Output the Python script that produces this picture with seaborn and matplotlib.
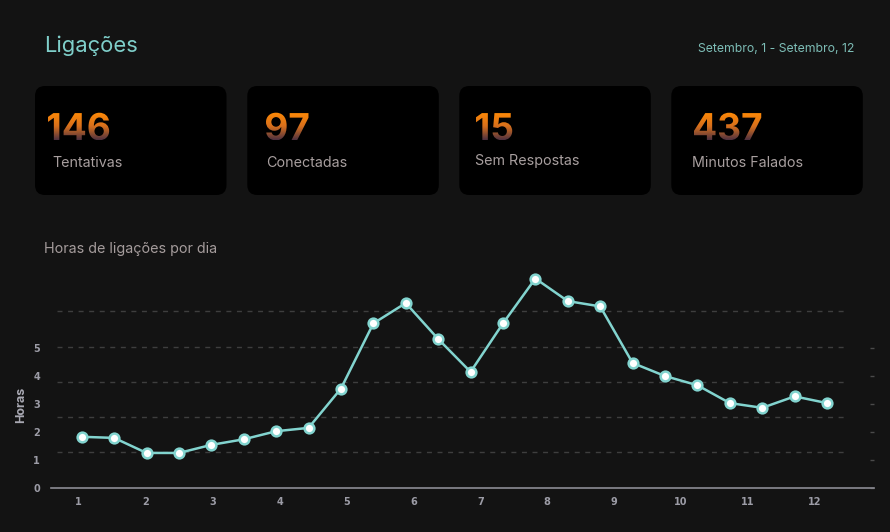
import numpy as np
import pandas as pd
import matplotlib
matplotlib.use("Agg")
import matplotlib.pyplot as plt
import matplotlib.transforms as mtransforms
from matplotlib.patches import FancyBboxPatch, PathPatch
from matplotlib.textpath import TextPath
from matplotlib.font_manager import FontProperties
from matplotlib.colors import LinearSegmentedColormap
import seaborn as sns

# ---------------- data ----------------
horas = [1.82, 1.78, 1.24, 1.24, 1.53, 1.73, 2.02, 2.14, 3.55, 5.89, 6.62, 5.33,
         4.15, 5.89, 7.50, 6.69, 6.50, 4.47, 4.00, 3.67, 3.03, 2.86, 3.27, 3.03]
dias = ["1", "2", "3", "4", "5", "6", "7", "8", "9", "10", "11", "12"]
y_ticks = [0, 1, 2, 3, 4, 5]
kpi_values = ["146", "97", "15", "437"]
kpi_labels = ["Tentativas", "Conectadas", "Sem Respostas", "Minutos Falados"]
titulo = "Ligações"
periodo = "Setembro, 1 - Setembro, 12"
subtitulo = "Horas de ligações por dia"

df = pd.DataFrame({"ponto": np.arange(len(horas)), "horas": horas})

# ---------------- style ----------------
BG = "#131313"
CARD = "#000000"
TEAL = "#7fcfca"
LINE = "#82d4cf"
TICK = "#9c9ca6"
GRID = "#3e3e3e"

sns.set_theme(style="dark", rc={"axes.facecolor": BG, "figure.facecolor": BG})
plt.rcParams["font.family"] = ["Inter", "DejaVu Sans"]

W, H = 890, 532
fig = plt.figure(figsize=(W / 100, H / 100), dpi=100, facecolor=BG)

# overlay in pixel coordinates for header and cards
ov = fig.add_axes([0, 0, 1, 1])
ov.set_xlim(0, W)
ov.set_ylim(H, 0)
ov.set_autoscale_on(False)
ov.axis("off")
ov.set_zorder(0)

ov.text(44, 52.5, titulo, color=TEAL, fontsize=15.8, va="baseline", ha="left")
ov.text(854, 52.5, periodo, color="#7dbdb6", fontsize=8.8, va="baseline", ha="right")
ov.text(43.5, 253, subtitulo, color="#a59c9c", fontsize=10.3, va="baseline", ha="left")

card_x = [35, 247.3, 459.3, 671.3]
num_x = [47.5, 266, 476, 694]
lab_x = [52.7, 266, 475.3, 692]
label_base = [167, 167, 165, 167]
card_w, card_h, card_y, r = 191.5, 109, 86, 10
num_prop = FontProperties(family="Inter", weight="bold")
cmap = LinearSegmentedColormap.from_list("g", ["#ff8a05", "#d8701c", "#4d3040"])


def gradient_text(ax, x, baseline, s, size):
    tp = TextPath((0, 0), s, size=size, prop=num_prop)
    bb = tp.get_extents()
    x = x - bb.x0
    tr = mtransforms.Affine2D().scale(1, -1).translate(x, baseline) + ax.transData
    patch = PathPatch(tp, transform=tr, facecolor="none", edgecolor="none")
    ax.add_patch(patch)
    grad = np.linspace(0, 1, 256).reshape(-1, 1)
    im = ax.imshow(grad, cmap=cmap, aspect="auto", origin="upper", zorder=3,
                   extent=(x + bb.x0, x + bb.x1, baseline - bb.y0, baseline - bb.y1))
    im.set_clip_path(patch)


for cx, nx, lx, val, lab, lb in zip(card_x, num_x, lab_x, kpi_values, kpi_labels,
                                    label_base):
    ov.add_patch(FancyBboxPatch((cx + r, card_y + r), card_w - 2 * r, card_h - 2 * r,
                                boxstyle=f"round,pad={r}", facecolor=CARD,
                                edgecolor="none", zorder=1))
    gradient_text(ov, nx, 140, val, 37)
    ov.text(lx, lb, lab, color="#a89f9f", fontsize=10.3, va="baseline", ha="left",
            zorder=3)

ov.set_xlim(0, W)
ov.set_ylim(H, 0)

# ---------------- chart ----------------
ax_left, ax_right, ax_bottom, ax_top = 51, 874, 487.5, 264.6
ymax = 8
fb = (H - ax_bottom) / H
fh = (ax_bottom - ax_top) / H

# dashed background guides (separate scale, shorter width)
gax = fig.add_axes([57 / W, fb, (848 - 57) / W, fh])
gax.set_ylim(0, ymax)
gax.set_xlim(0, 1)
gax.set_yticks([1.2635 * k for k in range(1, 6)])
gax.grid(axis="y", color=GRID, linestyle=(0, (3.6, 4.0)), linewidth=1.0)
gax.grid(axis="x", visible=False)
gax.tick_params(left=False, bottom=False, labelleft=False, labelbottom=False)
for s in gax.spines.values():
    s.set_visible(False)
gax.patch.set_alpha(0)
gax.set_zorder(1)

ax = fig.add_axes([ax_left / W, fb, (ax_right - ax_left) / W, fh])
ax.patch.set_alpha(0)
ax.set_zorder(2)

sns.lineplot(data=df, x="ponto", y="horas", ax=ax, color=LINE, linewidth=1.8,
             marker="o", markersize=7, markerfacecolor="white",
             markeredgecolor=LINE, markeredgewidth=1.8, zorder=5)

x0, x1 = -0.948, 24.45
ax.set_xlim(x0, x1)
ax.set_ylim(0, ymax)
ax.set_xticks(np.linspace(-0.093, 22.63, len(dias)))
ax.set_xticklabels(dias)
ax.set_xticks([x0, x1], minor=True)
ax.set_yticks(y_ticks)
ax.set_yticklabels([str(v) for v in y_ticks])
ax.grid(False)

ax.tick_params(axis="x", which="major", length=0, pad=7, labelsize=7, labelcolor=TICK)
ax.tick_params(axis="x", which="minor", length=4, width=1.2, color="#8c8c94",
               direction="out")
ax.tick_params(axis="y", left=False, right=True, labelleft=True, labelright=False,
               direction="in", length=3, width=1, color="#4a4a4a", pad=8,
               labelsize=7, labelcolor=TICK)
for lbl in ax.get_xticklabels() + ax.get_yticklabels():
    lbl.set_fontweight("bold")
    lbl.set_fontfamily("DejaVu Sans")

for name, s in ax.spines.items():
    s.set_visible(name == "bottom")
ax.spines["bottom"].set_color("#8c8c94")
ax.spines["bottom"].set_linewidth(1.2)

ax.set_xlabel("")
ax.set_ylabel("Horas", color="#a9a9b3", fontsize=9, fontweight="bold")
ax.yaxis.set_label_coords(-0.029, 0.37)

fig.savefig("out.png", dpi=100, facecolor=BG)
